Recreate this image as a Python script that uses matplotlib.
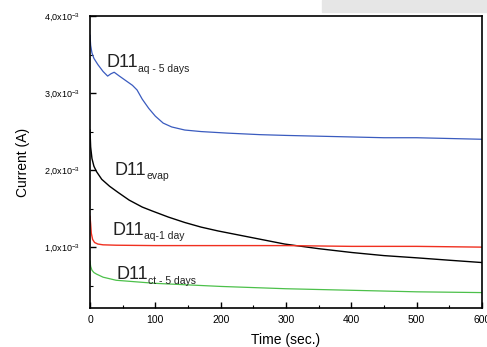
import numpy as np
import matplotlib.pyplot as plt
from matplotlib.ticker import MultipleLocator, FixedLocator, FixedFormatter
from matplotlib.patches import Rectangle

plt.rcParams['font.family'] = ['Liberation Sans', 'DejaVu Sans']
plt.rcParams['mathtext.fontset'] = 'custom'
plt.rcParams['mathtext.rm'] = 'Liberation Sans'

# current in units of 1e-3 A
t_aq5 = [0, 1, 3, 6, 12, 20, 27, 32, 37, 45, 55, 65, 72, 80, 90, 100, 112, 125, 145, 170, 210, 260, 300, 350, 400, 450, 500, 550, 600]
i_aq5 = [3.75, 3.62, 3.52, 3.45, 3.37, 3.28, 3.22, 3.25, 3.27, 3.22, 3.16, 3.10, 3.04, 2.92, 2.80, 2.70, 2.61, 2.56, 2.52, 2.50, 2.48, 2.46, 2.45, 2.44, 2.43, 2.42, 2.42, 2.41, 2.40]

t_evap = [0, 1, 3, 6, 10, 18, 30, 43, 60, 80, 95, 120, 145, 170, 196, 250, 298, 350, 401, 450, 502, 550, 600]
i_evap = [2.52, 2.30, 2.15, 2.05, 1.98, 1.88, 1.79, 1.71, 1.61, 1.52, 1.47, 1.39, 1.32, 1.26, 1.21, 1.12, 1.04, 0.98, 0.93, 0.89, 0.86, 0.83, 0.80]

t_aq1 = [0, 1, 2, 4, 7, 12, 20, 40, 100, 200, 300, 400, 500, 600]
i_aq1 = [1.40, 1.30, 1.18, 1.10, 1.06, 1.04, 1.03, 1.025, 1.02, 1.02, 1.02, 1.01, 1.01, 1.00]

t_ct5 = [0, 1, 3, 6, 10, 20, 40, 70, 100, 150, 200, 300, 400, 500, 600]
i_ct5 = [0.82, 0.75, 0.70, 0.67, 0.65, 0.61, 0.57, 0.55, 0.53, 0.51, 0.49, 0.46, 0.44, 0.42, 0.41]

ytick_vals = [1.0, 2.0, 3.0, 4.0]
ytick_labels = ['1,0x10$^{-3}$', '2,0x10$^{-3}$', '3,0x10$^{-3}$', '4,0x10$^{-3}$']

labels = [
    ('aq - 5 days', 26, 3.39),
    ('evap', 38, 2.0),
    ('aq-1 day', 35, 1.22),
    ('ct - 5 days', 41, 0.64),
]

fig = plt.figure(figsize=(4.87, 3.47), dpi=100)
fig.patches.append(Rectangle((322 / 487, 1 - 12 / 347), 165 / 487, 12 / 347,
                             transform=fig.transFigure, color='#e6e6e6', zorder=0))
ax = fig.add_axes([90 / 487, 39 / 347, 392 / 487, 292 / 347])

ax.plot(t_aq5, i_aq5, color='#3a5bbf', lw=0.9)
ax.plot(t_evap, i_evap, color='black', lw=1.0)
ax.plot(t_aq1, i_aq1, color='#f03020', lw=1.0)
ax.plot(t_ct5, i_ct5, color='#4cc04a', lw=0.9)

for sub, x, y in labels:
    ax.text(x, y, 'D11', fontsize=13, va='center', ha='left', color='#222222')
    ax.annotate(sub, (x, y), xytext=(22.5, -4.5), textcoords='offset points',
                fontsize=7.5, va='center', ha='left', color='#222222')

ax.set_xlim(0, 600)
ax.set_ylim(0.21, 4.0)
ax.xaxis.set_major_locator(MultipleLocator(100))
ax.xaxis.set_minor_locator(MultipleLocator(50))
ax.yaxis.set_major_locator(FixedLocator(ytick_vals))
ax.yaxis.set_major_formatter(FixedFormatter(ytick_labels))
ax.yaxis.set_minor_locator(FixedLocator([0.5, 1.5, 2.5, 3.5]))
ax.tick_params(which='both', direction='in', color='black')
ax.tick_params(which='major', length=4, width=1.0)
ax.tick_params(which='minor', length=2.5, width=0.8)
ax.tick_params(axis='x', labelsize=7.5, pad=5)
ax.tick_params(axis='y', labelsize=6.5, pad=7)
for s in ax.spines.values():
    s.set_linewidth(1.2)

ax.set_xlabel('Time (sec.)', fontsize=10, labelpad=6)
ax.set_ylabel('Current (A)', fontsize=10, labelpad=10)

fig.savefig('out.png', dpi=100)
